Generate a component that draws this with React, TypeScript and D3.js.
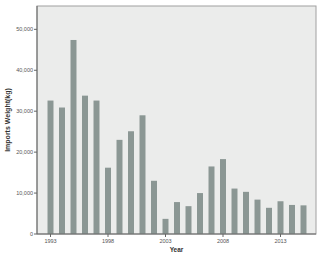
import React from "react";
import * as d3 from "d3";

const years = d3.range(1993, 2016).map(String);
const weights = [32600, 30900, 47400, 33800, 32600, 16200, 23000, 25100, 29000, 13000, 3700, 7800, 6800, 10000, 16500, 18300, 11100, 10300, 8400, 6400, 8000, 7100, 7000];
const yTicks = [0, 10000, 20000, 30000, 40000, 50000];
const xTickLabels = ["1993", "1998", "2003", "2008", "2013"];

export default function App() {
  const W = 318, H = 253;
  const left = 37, right = 316, top = 6, bottom = 234;
  const x = d3.scaleBand<string>().domain(years).range([44.75, 309.25]).paddingInner(0.48).paddingOuter(0.24);
  const y = d3.scaleLinear().domain([0, 55700]).range([bottom, top]);
  const fmt = d3.format(",");
  const font = "'Liberation Sans', Arial, sans-serif";
  return (
    <svg width={W} height={H} style={{ position: "absolute", left: 0, top: 0 }} fontFamily={font}>
      <rect x={0} y={0} width={W} height={H} fill="#ffffff" />
      <rect x={left} y={top} width={right - left} height={bottom - top} fill="#ebeceb" stroke="#a0a0a0" strokeWidth={1} />
      {years.map((yr, i) => (
        <rect key={yr} x={x(yr)!} y={y(weights[i])} width={x.bandwidth()} height={bottom - y(weights[i])} fill="#8b9794" />
      ))}
      <line x1={left} x2={left} y1={top} y2={bottom} stroke="#666" strokeWidth={1} />
      <line x1={left} x2={right} y1={bottom} y2={bottom} stroke="#666" strokeWidth={1} />
      {yTicks.map((t) => (
        <g key={t}>
          <line x1={left - 3} x2={left} y1={y(t)} y2={y(t)} stroke="#666" />
          <text x={left - 4} y={y(t)} dy="0.35em" textAnchor="end" fontSize={5.5} fill="#555">{fmt(t)}</text>
        </g>
      ))}
      {xTickLabels.map((t) => {
        const cx = x(t)! + x.bandwidth() / 2;
        return (
          <g key={t}>
            <line x1={cx} x2={cx} y1={bottom} y2={bottom + 3} stroke="#666" />
            <text x={cx} y={bottom + 9} textAnchor="middle" fontSize={5.5} fill="#555">{t}</text>
          </g>
        );
      })}
      <text transform={`translate(10,${(top + bottom) / 2}) rotate(-90)`} textAnchor="middle" fontSize={7} fontWeight="bold" fill="#333">Imports Weight(kg)</text>
      <text x={(left + right) / 2} y={252} textAnchor="middle" fontSize={6.5} fontWeight="bold" fill="#333">Year</text>
    </svg>
  );
}
